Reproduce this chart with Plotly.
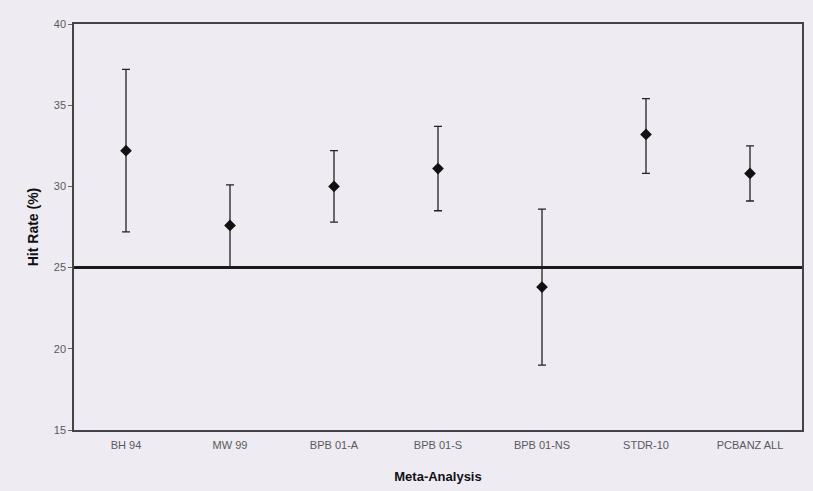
import plotly.graph_objects as go

categories = ["BH 94", "MW 99", "BPB 01-A", "BPB 01-S", "BPB 01-NS", "STDR-10", "PCBANZ ALL"]
hit_rate = [32.2, 27.6, 30.0, 31.1, 23.8, 33.2, 30.8]
upper_ci = [37.2, 30.1, 32.2, 33.7, 28.6, 35.4, 32.5]
lower_ci = [27.2, 25.0, 27.8, 28.5, 19.0, 30.8, 29.1]
chance_level = 25
y_ticks = [15, 20, 25, 30, 35, 40]

err_plus = [u - v for u, v in zip(upper_ci, hit_rate)]
err_minus = [v - l for v, l in zip(hit_rate, lower_ci)]

bg = "#EEEBF3"
fig = go.Figure()
fig.add_trace(go.Scatter(
    x=categories, y=hit_rate, mode="markers",
    marker=dict(symbol="diamond", size=9, color="#111111"),
    error_y=dict(type="data", symmetric=False, array=err_plus, arrayminus=err_minus,
                 color="#222222", thickness=1.3, width=4),
    showlegend=False,
))
fig.add_shape(type="line", xref="paper", yref="y", x0=0, x1=1,
              y0=chance_level, y1=chance_level,
              line=dict(color="#1a1a1a", width=3))

fig.update_layout(
    width=813, height=491,
    margin=dict(l=74, r=9, t=24, b=59),
    paper_bgcolor=bg, plot_bgcolor=bg,
    font=dict(family="Liberation Sans, Arial, sans-serif", color="#5a5a5a", size=11),
    xaxis=dict(
        type="category", range=[-0.5, 6.5],
        showgrid=False, zeroline=False,
        showline=True, linecolor="#444444", linewidth=1.5, mirror=True,
        ticks="outside", ticklen=4, tickcolor="rgba(0,0,0,0)",
        tickfont=dict(size=11, color="#5a5a5a"),
        title=dict(text="<b>Meta-Analysis</b>", font=dict(size=13, color="#111111"), standoff=22),
    ),
    yaxis=dict(
        range=[15, 40], tickvals=y_ticks,
        showgrid=False, zeroline=False,
        showline=True, linecolor="#444444", linewidth=1.5, mirror=True,
        ticks="outside", ticklen=4, tickcolor="#666666",
        tickfont=dict(size=11, color="#5a5a5a"),
        title=dict(text="<b>Hit Rate (%)</b>", font=dict(size=14, color="#111111"), standoff=12),
    ),
)
fig.write_html("out.html", config={"displayModeBar": False},
               post_script="document.body.style.margin='0';document.body.style.background='%s';" % bg)
